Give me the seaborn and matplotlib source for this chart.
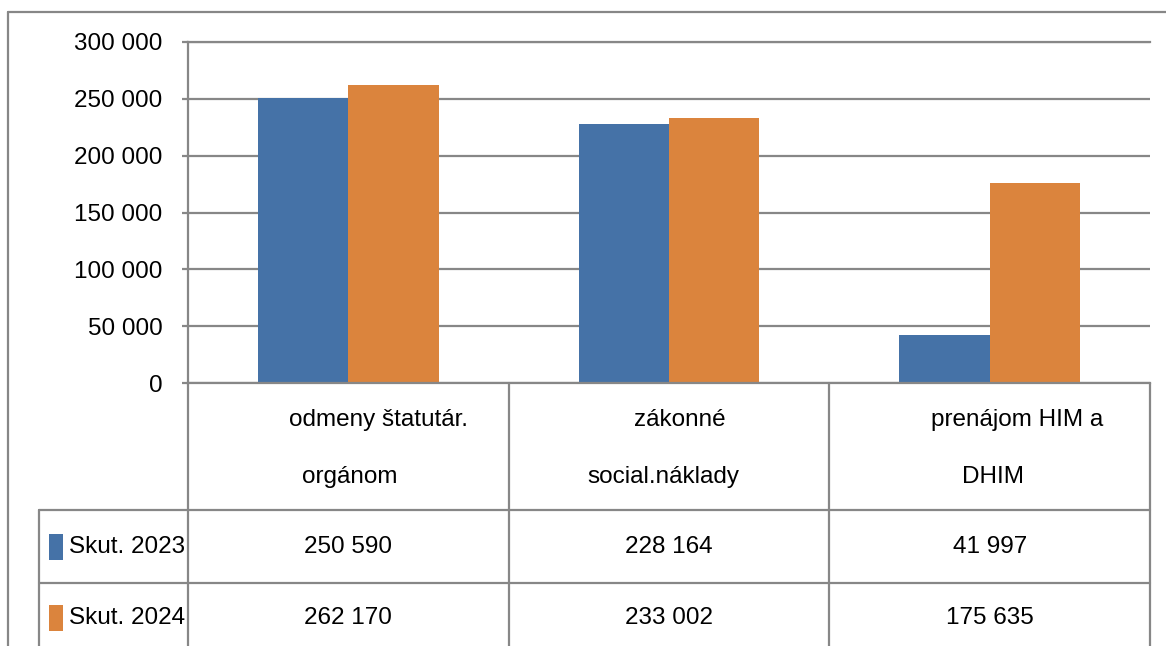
import matplotlib
matplotlib.use("Agg")
import matplotlib.pyplot as plt
import matplotlib.transforms as mtransforms
from matplotlib.lines import Line2D
from matplotlib.patches import Rectangle
import seaborn as sns
import pandas as pd

# ---------------- data ----------------
categories = ["odmeny štatutár.\norgánom", "zákonné\nsocial.náklady", "prenájom HIM a\nDHIM"]
series_names = ["Skut. 2023", "Skut. 2024"]
values_2023 = [250590, 228164, 41997]
values_2024 = [262170, 233002, 175635]
y_ticks = [0, 50000, 100000, 150000, 200000, 250000, 300000]
colors = ["#4572A7", "#DB843D"]


def fmt(v):
    return f"{v:,}".replace(",", " ")


sns.set_theme(style="white")
plt.rcParams["font.family"] = ["Liberation Sans Narrow", "Liberation Sans", "DejaVu Sans"]

W, H = 1166, 646
fig = plt.figure(figsize=(W / 100, H / 100), dpi=100)
fig.patch.set_facecolor("white")


def fx(px):
    return px / W


def fy(py):
    return 1 - py / H


grid_color = "#878787"
lw = 1.6
fs = 17.5

ax = fig.add_axes([fx(188), fy(383), fx(1150) - fx(188), fy(42) - fy(383)])

df = pd.DataFrame({
    "category": categories * 2,
    "series": [series_names[0]] * len(categories) + [series_names[1]] * len(categories),
    "value": values_2023 + values_2024,
})
sns.barplot(data=df, x="category", y="value", hue="series", palette=colors,
            width=0.5625, saturation=1, errorbar=None, legend=False, ax=ax,
            linewidth=0)

ax.set_xlim(-0.5, len(categories) - 0.5)
ax.set_ylim(y_ticks[0], y_ticks[-1])
ax.set_yticks(y_ticks)
ax.set_yticklabels([fmt(t) for t in y_ticks])
ax.set_xticks([])
ax.set_xlabel("")
ax.set_ylabel("")
ax.yaxis.grid(True, color=grid_color, linewidth=lw)
ax.set_axisbelow(True)
for side in ["left", "bottom", "top"]:
    ax.spines[side].set_visible(True)
    ax.spines[side].set_color(grid_color)
    ax.spines[side].set_linewidth(lw)
ax.spines["right"].set_visible(False)
ax.tick_params(axis="y", left=True, length=4.5, width=lw, color=grid_color,
               pad=14, labelsize=fs, labelcolor="black")
ax.tick_params(axis="x", bottom=False)

# ---------------- data table ----------------
blend = mtransforms.blended_transform_factory(ax.transData, fig.transFigure)


def fline(x0, y0, x1, y1):
    fig.add_artist(Line2D([fx(x0), fx(x1)], [fy(y0), fy(y1)], color=grid_color,
                          linewidth=lw, transform=fig.transFigure))


# column separators (at category boundaries)
n = len(categories)
for b in [i - 0.5 for i in range(n + 1)]:
    fig.add_artist(Line2D([b, b], [fy(383), fy(646)], color=grid_color,
                          linewidth=lw, transform=blend))
# row lines
fline(39, 510, 1150, 510)
fline(39, 583, 1150, 583)
fline(39, 510, 39, 646)
# outer chart border
fline(8, 12, 8, 646)
fline(8, 12, 1166, 12)

# category labels (two lines each)
line1_off = [30, 11, 27]
line2_off = [1, -6, 3]
for i, cat in enumerate(categories):
    l1, l2 = cat.split("\n")
    t1 = ax.text(i, fy(420), l1, ha="center", va="center", fontsize=fs, color="black")
    t1.set_transform(blend + mtransforms.ScaledTranslation(line1_off[i] / 100, 0, fig.dpi_scale_trans))
    t2 = ax.text(i, fy(477), l2, ha="center", va="center", fontsize=fs, color="black")
    t2.set_transform(blend + mtransforms.ScaledTranslation(line2_off[i] / 100, 0, fig.dpi_scale_trans))

# value rows
row_y = [547, 618]
for r, vals in enumerate([values_2023, values_2024]):
    for i, v in enumerate(vals):
        ax.text(i, fy(row_y[r]), fmt(v), transform=blend, ha="center", va="center",
                fontsize=fs, color="black")
    fig.add_artist(Rectangle((fx(49), fy(row_y[r] + 13)), fx(63) - fx(49),
                             fy(row_y[r] - 13) - fy(row_y[r] + 13),
                             facecolor=colors[r], edgecolor="none",
                             transform=fig.transFigure))
    fig.text(fx(69), fy(row_y[r]), series_names[r], ha="left", va="center",
             fontsize=fs, color="black")

fig.savefig("out.png", dpi=100, facecolor="white")
